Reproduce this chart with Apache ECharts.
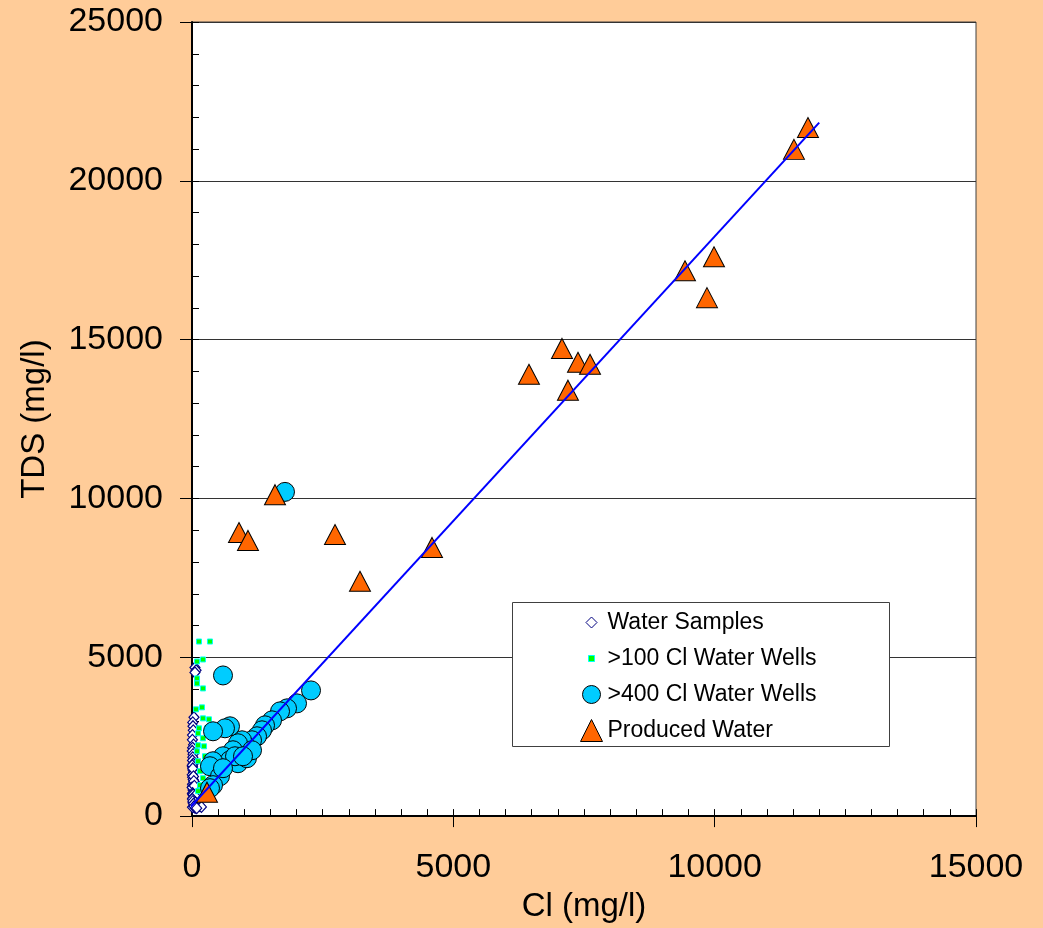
<!DOCTYPE html>
<html>
<head>
<meta charset="utf-8">
<script src="https://cdn.jsdelivr.net/npm/echarts@6/dist/echarts.min.js"></script>
<style>
html,body{margin:0;padding:0;background:#FFCC99;}
#chart{width:1043px;height:928px;}
</style>
</head>
<body>
<div id="chart"></div>
<script>
// ---- Data ----
const seriesNames = ['Water Samples', '>100 Cl Water Wells', '>400 Cl Water Wells', 'Produced Water'];

const waterSamplesCl  = [57,77,57,38,15,19,25,10,8,30,12,5,20,15,10,25,8,18,30,5,12,22,40,10,15,35,20,50,8,25,60,15,40,30,80,20,100,45,70,130,25,10,150,60,180,5,15,28,35,3,45,12,22,55,8,18,65,30,42,90];
const waterSamplesTDS = [4680,4590,4520,3110,2950,2830,2700,2550,2400,2250,2150,2050,1950,1850,1750,1650,1550,1450,1380,1300,1220,1150,1080,1000,940,880,820,760,700,650,600,560,520,480,450,420,400,380,350,330,300,280,320,260,290,1600,1500,1250,1100,900,950,720,680,640,540,470,430,390,310,250];

const wells100Cl  = [134,344,210,96,96,96,210,77,191,210,325,134,287,115,210,115,230,96,249,115,210,153,210,153,210,115];
const wells100TDS = [5496,5496,4931,4868,4334,4177,4020,3361,3423,3078,3046,2764,2764,2607,2450,2230,2198,2041,1884,1727,1602,1413,1193,974,879,785];

const wells400Cl  = [2277,2009,1818,1684,1531,1397,1339,1244,1148,1014,957,880,784,727,631,402,593,727,880,823,402,344,536,402,344,593,1052,1148,976,593,1779];
const wells400TDS = [3957,3549,3392,3298,3015,2858,2701,2513,2387,2230,2387,2293,2073,2827,2764,2670,1884,1759,1665,1884,1727,1570,1256,974,879,1508,1822,2073,1884,4428,10207];

const producedCl  = [11785,11517,9432,9987,9853,7079,7385,7615,6447,7193,4592,2736,3214,1588,899,1071,287];
const producedTDS = [21679,20990,17168,17607,16322,14724,14286,14223,13910,13409,8459,8866,7393,10119,8929,8678,752];

const trendCl  = [-170, 12000];
const trendTDS = [30, 21830];

const xTicks = [0, 5000, 10000, 15000];
const yTicks = [0, 5000, 10000, 15000, 20000, 25000];

// ---- Build ----
const zip = (a, b) => a.map((v, i) => [v, b[i]]);
const FONT = "'Liberation Sans', Arial, sans-serif";
const plain = v => String(v);

const chart = echarts.init(document.getElementById('chart'), null, {renderer: 'canvas'});

const xMin = xTicks[0], xMax = xTicks[xTicks.length - 1];
const yMin = yTicks[0], yMax = yTicks[yTicks.length - 1];

chart.setOption({
  animation: false,
  backgroundColor: '#FFCC99',
  grid: {
    left: 192, right: 67, top: 22, bottom: 110,
    show: true, backgroundColor: '#ffffff', borderColor: '#404040', borderWidth: 1
  },
  xAxis: [
    {
      type: 'value', min: xMin, max: xMax, interval: 5000, position: 'bottom',
      axisLine: {show: true, onZero: false, lineStyle: {color: '#000', width: 2}},
      axisTick: {show: true, inside: false, length: 11, lineStyle: {color: '#000', width: 1}},
      axisLabel: {show: true, color: '#000', fontSize: 34, fontFamily: FONT, margin: 35, formatter: plain},
      splitLine: {show: false},
      name: 'Cl (mg/l)', nameLocation: 'middle', nameGap: 73,
      nameTextStyle: {color: '#000', fontSize: 33, fontFamily: FONT}
    },
    {
      type: 'value', min: xMin, max: xMax, interval: 500, position: 'bottom',
      axisLine: {show: false},
      axisTick: {show: true, inside: true, length: 7, lineStyle: {color: '#000', width: 1}},
      axisLabel: {show: false},
      splitLine: {show: false}
    }
  ],
  yAxis: [
    {
      type: 'value', min: yMin, max: yMax, interval: 5000, position: 'left',
      axisLine: {show: true, onZero: false, lineStyle: {color: '#000', width: 2}},
      axisTick: {show: true, inside: false, length: 12, lineStyle: {color: '#000', width: 1}},
      axisLabel: {show: true, color: '#000', fontSize: 34, fontFamily: FONT, margin: 29, formatter: plain},
      splitLine: {show: true, lineStyle: {color: '#333', width: 1}},
      name: 'TDS (mg/l)', nameLocation: 'middle', nameGap: 141,
      nameTextStyle: {color: '#000', fontSize: 33, fontFamily: FONT}
    },
    {
      type: 'value', min: yMin, max: yMax, interval: 1000, position: 'left',
      axisLine: {show: false},
      axisTick: {show: true, inside: true, length: 7, lineStyle: {color: '#000', width: 1}},
      axisLabel: {show: false},
      splitLine: {show: false}
    }
  ],
  graphic: [
    {
      type: 'rect', left: 512, top: 602, z: 5,
      shape: {width: 377, height: 144},
      style: {fill: '#ffffff', stroke: '#404040', lineWidth: 1}
    }
  ],
  legend: {
    orient: 'vertical', left: 580, top: 611, z: 10, padding: 0,
    itemWidth: 22, itemHeight: 22, itemGap: 13,
    textStyle: {color: '#000', fontSize: 23, fontFamily: FONT},
    itemStyle: {borderWidth: 1},
    data: [
      {name: seriesNames[0], icon: 'path://M0,0M22,22M5.5,11L11,5.5L16.5,11L11,16.5Z'},
      {name: seriesNames[1], icon: 'path://M0,0M22,22M8,8L14,8L14,14L8,14Z'},
      {name: seriesNames[2], icon: 'path://M0,0M22,22M2,11A9,9,0,1,1,20,11A9,9,0,1,1,2,11Z'},
      {name: seriesNames[3], icon: 'triangle'}
    ]
  },
  series: [
    {
      name: seriesNames[0], type: 'scatter', symbol: 'diamond', symbolSize: [10, 11],
      data: zip(waterSamplesCl, waterSamplesTDS), clip: false, z: 2,
      itemStyle: {color: '#ffffff', borderColor: '#000080', borderWidth: 1.2, opacity: 1}
    },
    {
      name: seriesNames[1], type: 'scatter', symbol: 'rect', symbolSize: 5,
      data: zip(wells100Cl, wells100TDS), clip: false, z: 2,
      itemStyle: {color: '#00FF00', borderColor: '#00FFFF', borderWidth: 1, opacity: 1}
    },
    {
      name: seriesNames[2], type: 'scatter', symbol: 'circle', symbolSize: 19,
      data: zip(wells400Cl, wells400TDS), clip: false, z: 2,
      itemStyle: {color: '#00CCFF', borderColor: '#000000', borderWidth: 1, opacity: 1}
    },
    {
      name: seriesNames[3], type: 'scatter', symbol: 'triangle', symbolSize: [21, 20],
      data: zip(producedCl, producedTDS), clip: false, z: 2,
      itemStyle: {color: '#FF6600', borderColor: '#000000', borderWidth: 1, opacity: 1}
    },
    {
      name: 'Trend', type: 'line', symbol: 'none', clip: false, z: 3,
      data: zip(trendCl, trendTDS),
      lineStyle: {color: '#0000FF', width: 2},
      silent: true
    }
  ]
});
</script>
</body>
</html>
